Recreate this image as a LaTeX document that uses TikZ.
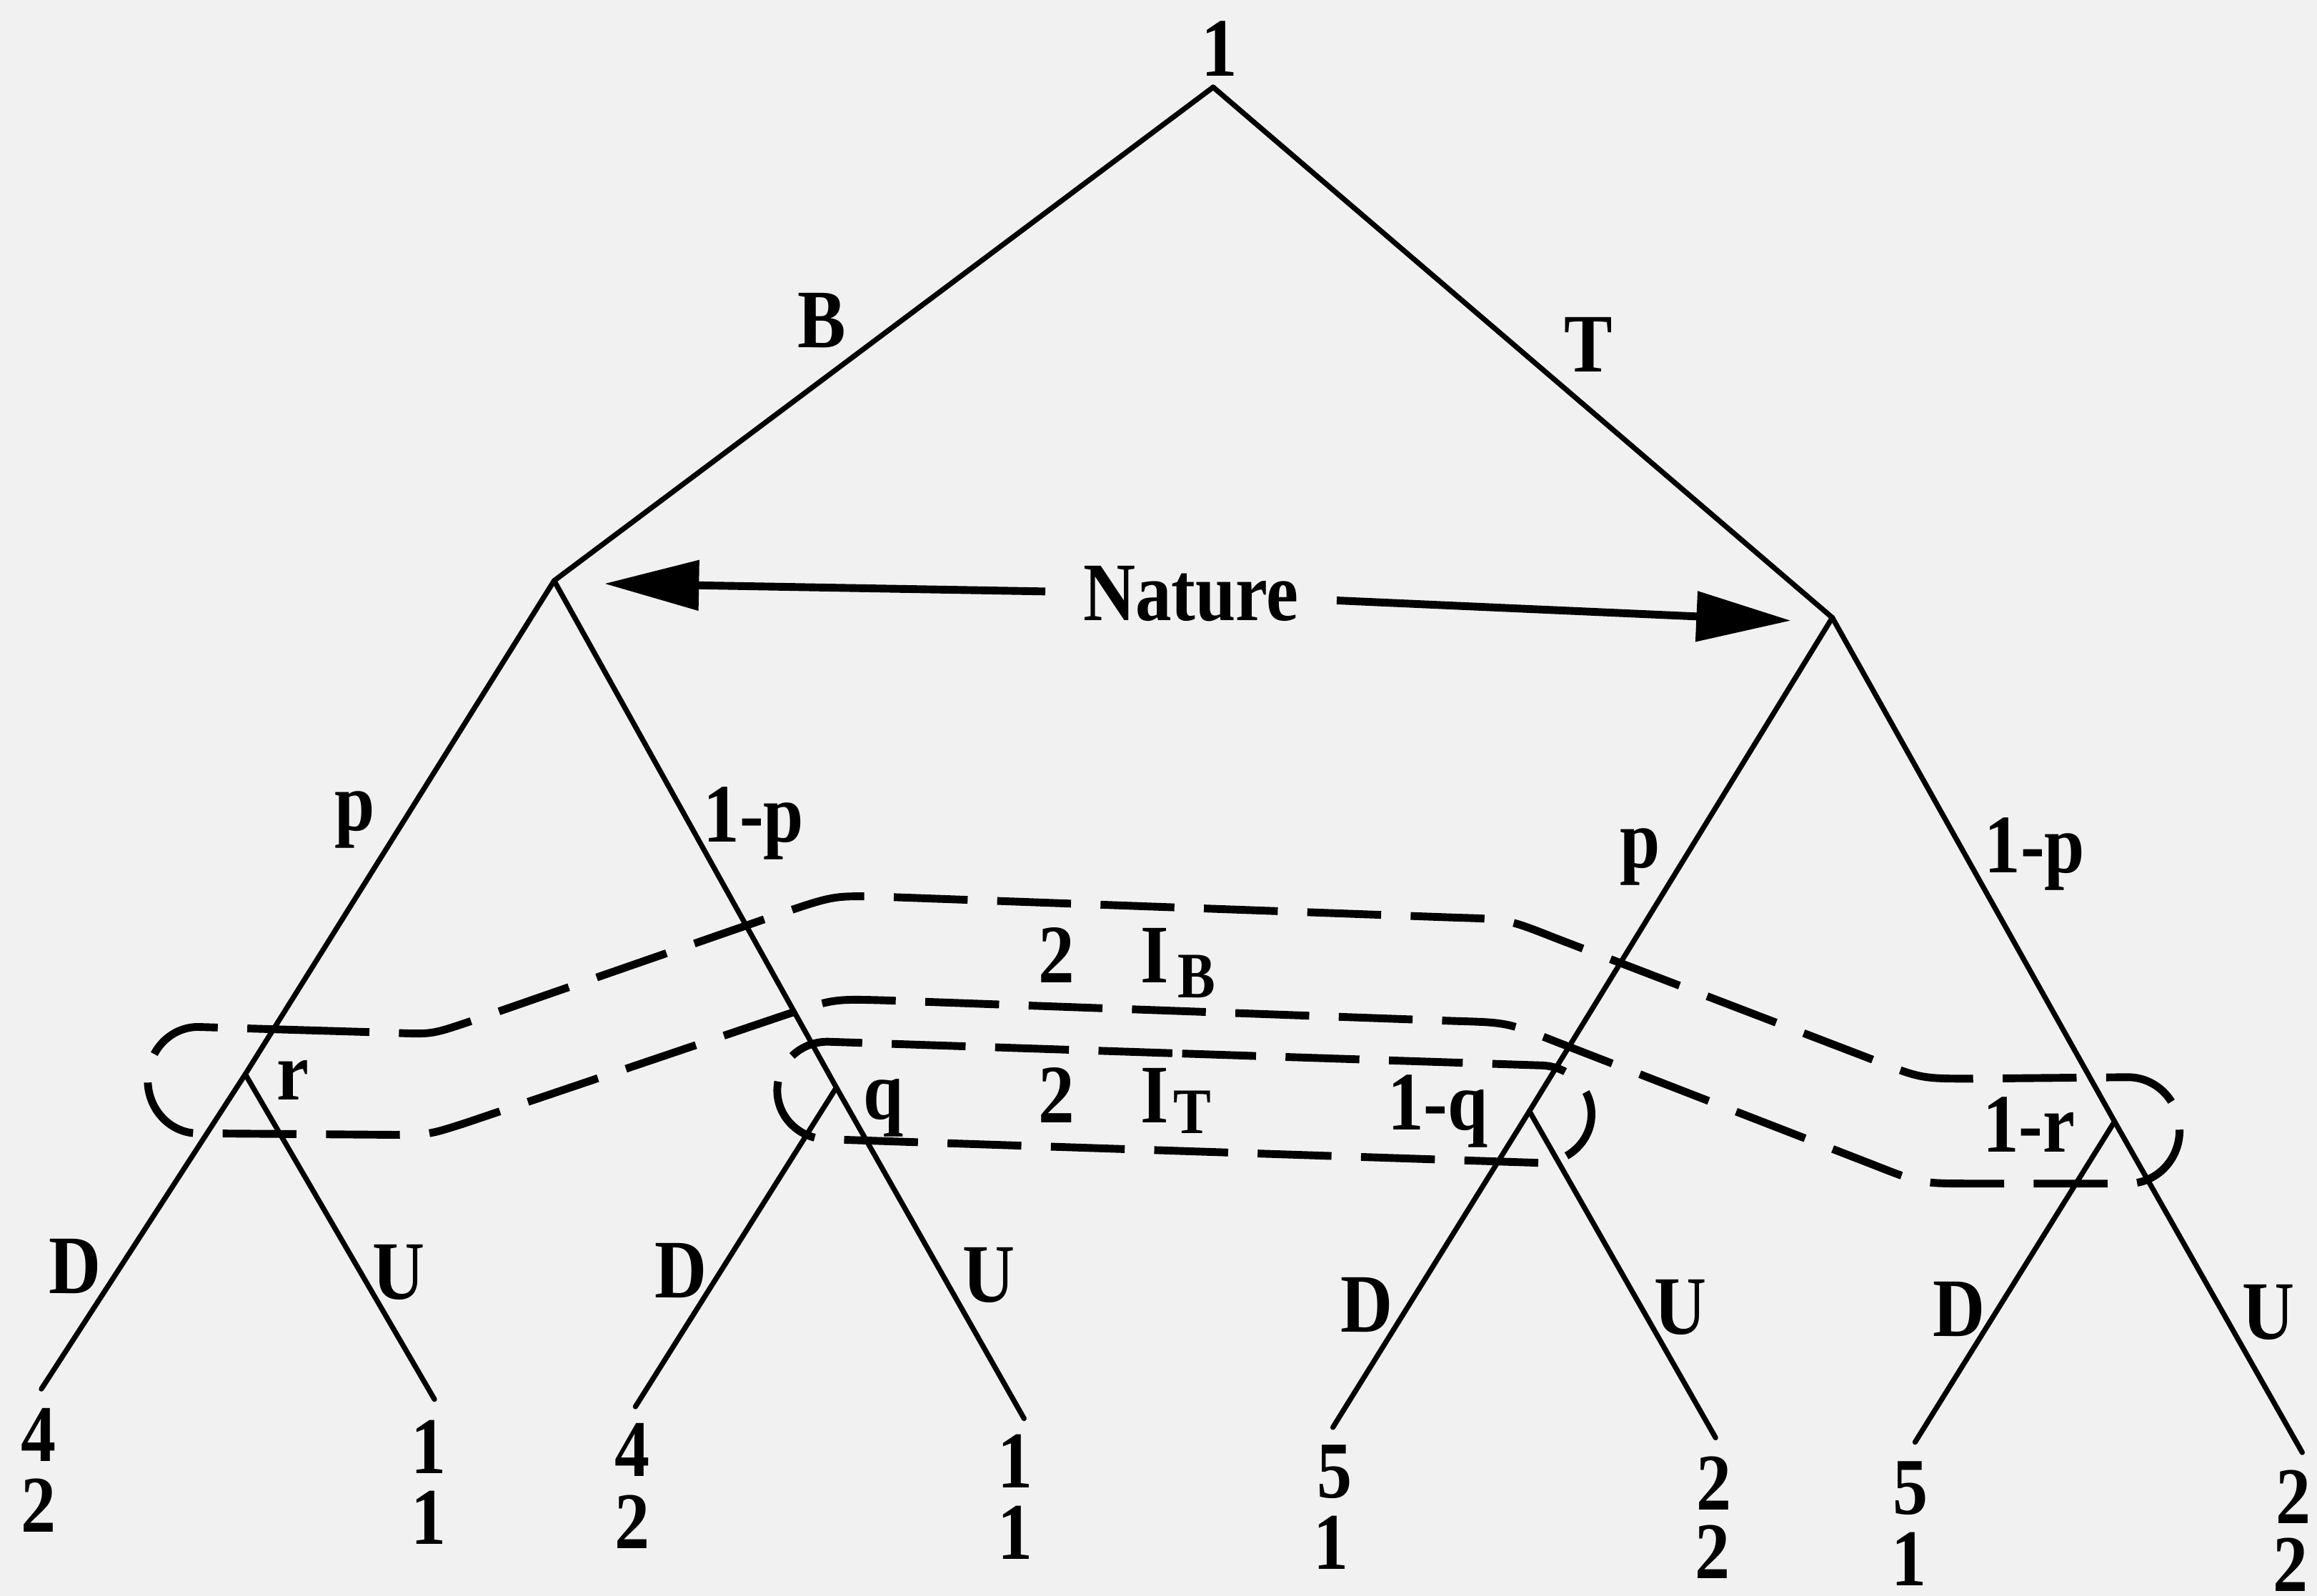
\documentclass[tikz,border=0pt]{standalone}
\usepackage{fontspec}
\setmainfont[FakeStretch=0.87]{Liberation Serif}
\usetikzlibrary{arrows.meta}
\definecolor{bgc}{RGB}{241,241,241}
\begin{document}
\begin{tikzpicture}[x=0.1mm,y=-0.1mm,
  tree/.style={line width=1pt, line cap=round},
  infoset/.style={line width=1.5pt, dash pattern=on 5mm off 2mm},
  lab/.style={font=\fontsize{16}{16}\selectfont\bfseries, inner sep=0pt},
  pay/.style={font=\fontsize{15.5}{15.5}\selectfont\bfseries, inner sep=0pt},
  natarrow/.style={line width=1.5pt, -{Triangle[length=6.4mm,width=3.3mm]}},
]
\fill[bgc] (0,0) rectangle (1568,1080);
\useasboundingbox (0,0) rectangle (1568,1080);

% decision nodes
\coordinate (root) at (821,59);
\coordinate (nB) at (375,393);
\coordinate (nT) at (1240,418);
\coordinate (r1) at (166,727);
\coordinate (q1) at (566,736);
\coordinate (q2) at (1035,752);
\coordinate (r2) at (1431,759);
% leaves
\coordinate (L1) at (28,940);
\coordinate (L2) at (294,947);
\coordinate (L3) at (430,952);
\coordinate (L4) at (693,960);
\coordinate (L5) at (902,966);
\coordinate (L6) at (1161,973);
\coordinate (L7) at (1296,976);
\coordinate (L8) at (1558,983);

% tree edges
\draw[tree] (root) -- (nB);
\draw[tree] (root) -- (nT);
\draw[tree] (nB) -- (r1);
\draw[tree] (nB) -- (q1);
\draw[tree] (nT) -- (q2);
\draw[tree] (nT) -- (r2);
\draw[tree] (r1) -- (L1);
\draw[tree] (r1) -- (L2);
\draw[tree] (q1) -- (L3);
\draw[tree] (q1) -- (L4);
\draw[tree] (q2) -- (L5);
\draw[tree] (q2) -- (L6);
\draw[tree] (r2) -- (L7);
\draw[tree] (r2) -- (L8);

% information set I_B
\draw[infoset] (200,697) -- (267,699) .. controls (292,700) .. (316,692)
  -- (532,617) .. controls (565,606) .. (600,607)
  -- (985,621) .. controls (1020,622) .. (1053,635)
  -- (1267,717) .. controls (1300,730) .. (1335,730)
  -- (1440,729)
  arc[start angle=90, end angle=-90, x radius=3.5mm, y radius=3.6mm]
  -- (1335,801) .. controls (1300,801) .. (1267,788)
  -- (1053,705) .. controls (1020,692) .. (985,691)
  -- (599,677) .. controls (564,676) .. (531,687)
  -- (315,760) .. controls (290,768) .. (265,768)
  -- (134,767)
  arc[start angle=270, end angle=90, x radius=3.4mm, y radius=3.6mm] -- cycle;

% information set I_T
\draw[infoset] (800,713) -- (1042,721)
  arc[start angle=90, end angle=-90, x radius=3.5mm, y radius=3.3mm]
  -- (560,771)
  arc[start angle=270, end angle=90, x radius=3.4mm, y radius=3.3mm] -- cycle;

% Nature arrows
\node[lab, inner xsep=2.5mm] (nat) at (806,402) {Nature};
\coordinate (tipL) at (409,395);
\coordinate (tipR) at (1212,420);
\draw[natarrow] (nat) -- (tipL);
\draw[natarrow] (nat) -- (tipR);

% labels
\node[lab] (lroot) at (825,33) {1};
\node[lab] (lB) at (556,217) {B};
\node[lab] (lT) at (1075,233) {T};
\node[lab] (lp1) at (240,555) {p};
\node[lab] (lnp1) at (510,557) {1-p};
\node[lab] (lp2) at (1110,580) {p};
\node[lab] (lnp2) at (1377,578) {1-p};

\node[lab] (lr1) at (198,731) {r};
\node[lab] (lq1) at (598,750) {q};
\node[lab] (lq2) at (973,752) {1-q};
\node[lab] (lr2) at (1373,761) {1-r};

\node[lab, anchor=base west] (lIB) at (702,665) {2\hspace{4.5mm}I\hspace{0.6mm}\raisebox{-1mm}{\fontsize{12.5}{12.5}\selectfont B}};
\node[lab, anchor=base west] (lIT) at (702,760) {2\hspace{4.5mm}I\hspace{0.3mm}\raisebox{-0.7mm}{\fontsize{12.5}{12.5}\selectfont T}};

\node[lab] (d1) at (51,857) {D};
\node[lab] (u1) at (270,861) {U};
\node[lab] (d2) at (461,860) {D};
\node[lab] (u2) at (669,863) {U};
\node[lab] (d3) at (925,883) {D};
\node[lab] (u3) at (1137,885) {U};
\node[lab] (d4) at (1326,886) {D};
\node[lab] (u4) at (1535,888) {U};

% payoffs (player 1 above, player 2 below)
\node[pay] (p1a) at (26,971) {4};   \node[pay] (p1b) at (26,1019) {2};
\node[pay] (p2a) at (290,979) {1};  \node[pay] (p2b) at (290,1027) {1};
\node[pay] (p3a) at (428,981) {4};  \node[pay] (p3b) at (428,1030) {2};
\node[pay] (p4a) at (687,989) {1};  \node[pay] (p4b) at (687,1037) {1};
\node[pay] (p5a) at (903,996) {5};  \node[pay] (p5b) at (901,1044) {1};
\node[pay] (p6a) at (1160,1004) {2}; \node[pay] (p6b) at (1159,1050) {2};
\node[pay] (p7a) at (1293,1007) {5}; \node[pay] (p7b) at (1292,1055) {1};
\node[pay] (p8a) at (1552,1013) {2}; \node[pay] (p8b) at (1550,1059) {2};
\end{tikzpicture}
\end{document}
